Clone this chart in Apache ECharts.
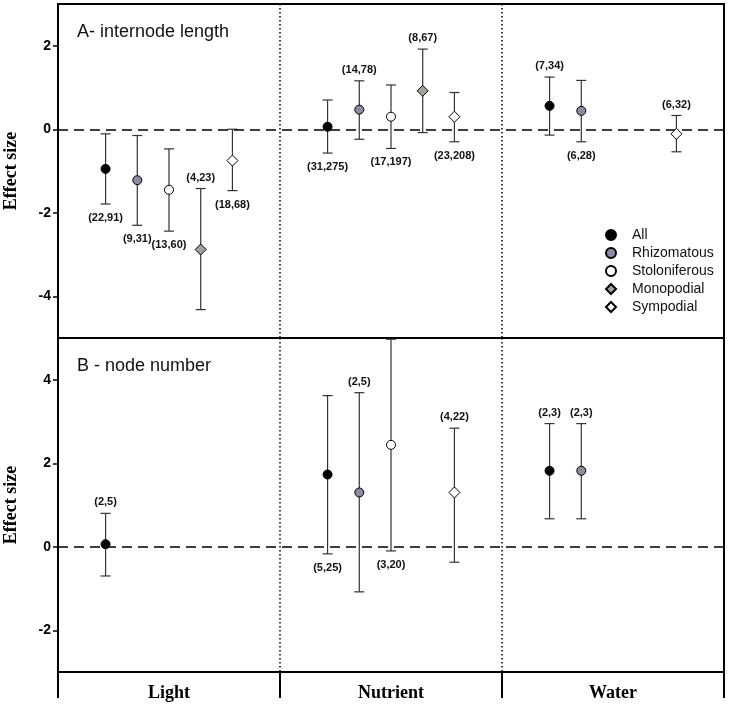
<!DOCTYPE html>
<html>
<head>
<meta charset="utf-8">
<script src="https://cdn.jsdelivr.net/npm/echarts@6/dist/echarts.min.js"></script>
<style>html,body{margin:0;padding:0;background:#fff}#chart{width:730px;height:707px}</style>
</head>
<body>
<div id="chart"></div>
<script>
// ---------- data ----------
const categories = ['Light', 'Nutrient', 'Water'];
const groupNames = ['All', 'Rhizomatous', 'Stoloniferous', 'Monopodial', 'Sympodial'];
const yTicksA = [-4, -2, 0, 2];
const yTicksB = [-2, 0, 2, 4];
const panelTitles = ['A- internode length', 'B - node number'];

// Panel A (internode length): per category [mean, lower, upper]; null = no data
const internodeAll   = [[-0.95, -1.79, -0.11], [0.06, -0.57, 0.70], [0.56, -0.14, 1.25]];
const internodeRhizo = [[-1.22, -2.30, -0.15], [0.47, -0.24, 1.16], [0.44, -0.30, 1.17]];
const internodeStolo = [[-1.45, -2.44, -0.47], [0.30, -0.46, 1.06], null];
const internodeMono  = [[-2.88, -4.32, -1.42], [0.92, -0.08, 1.92], null];
const internodeSymp  = [[-0.75, -1.47, 0.00], [0.30, -0.30, 0.88], [-0.11, -0.54, 0.33]];
const internodeAllN   = ['(22,91)', '(31,275)', '(7,34)'];
const internodeRhizoN = ['(9,31)', '(14,78)', '(6,28)'];
const internodeStoloN = ['(13,60)', '(17,197)', null];
const internodeMonoN  = ['(4,23)', '(8,67)', null];
const internodeSympN  = ['(18,68)', '(23,208)', '(6,32)'];

// Panel B (node number)
const nodeAll   = [[0.06, -0.70, 0.80], [1.73, -0.17, 3.62], [1.82, 0.67, 2.95]];
const nodeRhizo = [null, [1.30, -1.08, 3.69], [1.82, 0.67, 2.95]];
const nodeStolo = [null, [2.44, -0.10, 4.97], null];
const nodeMono  = [null, null, null];
const nodeSymp  = [null, [1.30, -0.37, 2.84], null];
const nodeAllN   = ['(2,5)', '(5,25)', '(2,3)'];
const nodeRhizoN = [null, '(2,5)', '(2,3)'];
const nodeStoloN = [null, '(3,20)', null];
const nodeMonoN  = [null, null, null];
const nodeSympN  = [null, '(4,22)', null];

// label placement (layout, not data)
const sideA = [
  ['below', 'below', 'above'],
  ['below', 'above', 'below'],
  ['below', 'below', null],
  ['above', 'above', null],
  ['below', 'below', 'above']
];
const sideB = [
  ['above', 'below', 'above'],
  [null, 'above', 'above'],
  [null, 'below', null],
  [null, null, null],
  [null, 'above', null]
];

// ---------- styles ----------
const groupStyle = [
  { symbol: 'circle', size: 9, color: '#000000' },
  { symbol: 'circle', size: 9, color: '#8c8ca0' },
  { symbol: 'circle', size: 9, color: '#ffffff' },
  { symbol: 'diamond', size: 11, color: '#a2a49a' },
  { symbol: 'diamond', size: 11, color: '#ffffff' }
];

const panelA = [internodeAll, internodeRhizo, internodeStolo, internodeMono, internodeSymp];
const panelAN = [internodeAllN, internodeRhizoN, internodeStoloN, internodeMonoN, internodeSympN];
const panelB = [nodeAll, nodeRhizo, nodeStolo, nodeMono, nodeSymp];
const panelBN = [nodeAllN, nodeRhizoN, nodeStoloN, nodeMonoN, nodeSympN];

function xPos(catIdx, groupIdx) { return catIdx + (1.5 + groupIdx) / 7; }

function buildPanelSeries(gridIdx, values, labels, sides) {
  const series = [];
  values.forEach((rows, g) => {
    const pts = [], bars = [];
    rows.forEach((r, c) => {
      if (!r) return;
      const x = xPos(c, g);
      pts.push([x, r[0]]);
      bars.push({ value: [x, r[1], r[2]], lab: labels[g][c], side: sides[g][c] });
    });
    if (!pts.length) return;
    series.push({
      type: 'custom',
      xAxisIndex: gridIdx, yAxisIndex: gridIdx,
      silent: true, z: 2,
      data: bars.map(b => b.value),
      renderItem: function (params, api) {
        const b = bars[params.dataIndex];
        const lo = api.coord([b.value[0], b.value[1]]);
        const hi = api.coord([b.value[0], b.value[2]]);
        const st = { stroke: '#333', lineWidth: 1.2 };
        const ch = [
          { type: 'line', shape: { x1: lo[0], y1: lo[1], x2: hi[0], y2: hi[1] }, style: st },
          { type: 'line', shape: { x1: lo[0] - 5, y1: lo[1], x2: lo[0] + 5, y2: lo[1] }, style: st },
          { type: 'line', shape: { x1: hi[0] - 5, y1: hi[1], x2: hi[0] + 5, y2: hi[1] }, style: st }
        ];
        if (b.lab) {
          const y = b.side === 'above' ? hi[1] - 11 : lo[1] + 14;
          ch.push({ type: 'text', x: lo[0], y: y, style: {
            text: b.lab, fill: '#111', font: 'bold 11px Arial, "Liberation Sans"',
            textAlign: 'center', textVerticalAlign: 'middle' } });
        }
        return { type: 'group', children: ch };
      }
    });
    const s = groupStyle[g];
    series.push({
      type: 'scatter', name: groupNames[g],
      xAxisIndex: gridIdx, yAxisIndex: gridIdx,
      symbol: s.symbol, symbolSize: s.size, z: 5,
      itemStyle: { color: s.color, borderColor: '#000', borderWidth: 1, opacity: 1 },
      emphasis: { disabled: true },
      data: pts
    });
  });
  // zero reference line
  series.push({
    type: 'line', xAxisIndex: gridIdx, yAxisIndex: gridIdx, data: [], silent: true,
    markLine: { symbol: 'none', silent: true, label: { show: false },
      lineStyle: { color: '#000', width: 1.5, type: [10, 6] },
      data: [{ yAxis: 0 }] }
  });
  return series;
}

const series = [].concat(
  buildPanelSeries(0, panelA, panelAN, sideA),
  buildPanelSeries(1, panelB, panelBN, sideB)
);

const yCommon = {
  type: 'value',
  axisLine: { show: true, lineStyle: { color: '#000', width: 2 } },
  axisTick: { show: true, length: 5, lineStyle: { color: '#000', width: 1.5 } },
  axisLabel: { color: '#000', fontWeight: 'bold', fontSize: 14, fontFamily: 'Arial, "Liberation Sans"', margin: 7 },
  splitLine: { show: false },
  name: 'Effect size', nameLocation: 'middle', nameGap: 38,
  nameTextStyle: { fontFamily: '"Liberation Serif", "Times New Roman", serif', fontWeight: 'bold', fontSize: 18, color: '#000' }
};

const option = {
  animation: false,
  backgroundColor: '#fff',
  grid: [
    { left: 58, right: 6, top: 4, height: 334, show: true, borderColor: '#000', borderWidth: 2,
      backgroundColor: 'transparent', containLabel: false, outerBoundsMode: 'none' },
    { left: 58, right: 6, top: 338, height: 334, show: true, borderColor: '#000', borderWidth: 2,
      backgroundColor: 'transparent', containLabel: false, outerBoundsMode: 'none' }
  ],
  xAxis: [
    { type: 'value', gridIndex: 0, min: 0, max: 3, interval: 1,
      axisLine: { show: false, onZero: false }, axisTick: { show: false }, axisLabel: { show: false },
      splitLine: { show: true, lineStyle: { color: '#000', width: 1.5, type: [1.5, 2.5] } } },
    { type: 'value', gridIndex: 1, min: 0, max: 3, interval: 1, position: 'bottom',
      axisLine: { show: false, onZero: false },
      axisTick: { show: true, length: 26, lineStyle: { color: '#000', width: 2 } },
      axisLabel: { show: false },
      splitLine: { show: true, lineStyle: { color: '#000', width: 1.5, type: [1.5, 2.5] } } },
    { type: 'category', gridIndex: 1, data: categories, position: 'bottom',
      axisLine: { show: false, onZero: false }, axisTick: { show: false },
      axisLabel: { color: '#000', fontWeight: 'bold', fontSize: 18, margin: 12,
        fontFamily: '"Liberation Serif", "Times New Roman", serif' } }
  ],
  yAxis: [
    Object.assign({}, yCommon, { gridIndex: 0, min: -5, max: 3,
      axisTick: Object.assign({}, yCommon.axisTick, { customValues: yTicksA }),
      axisLabel: Object.assign({}, yCommon.axisLabel, { customValues: yTicksA }) }),
    Object.assign({}, yCommon, { gridIndex: 1, min: -3, max: 5,
      axisTick: Object.assign({}, yCommon.axisTick, { customValues: yTicksB }),
      axisLabel: Object.assign({}, yCommon.axisLabel, { customValues: yTicksB }) })
  ],
  legend: {
    orient: 'vertical', left: 600, top: 223, itemGap: 4,
    itemWidth: 10, itemHeight: 10, selectedMode: false,
    data: groupNames,
    textStyle: { fontSize: 14, fontFamily: 'Arial, "Liberation Sans"', color: '#111', padding: [0, 0, 0, 11] }
  },
  graphic: [
    { type: 'text', left: 77, top: 23, style: { text: panelTitles[0], font: '18px Arial, "Liberation Sans"', fill: '#111' } },
    { type: 'text', left: 77, top: 357, style: { text: panelTitles[1], font: '18px Arial, "Liberation Sans"', fill: '#111' } }
  ],
  series: series
};

const chart = echarts.init(document.getElementById('chart'), null, { renderer: 'canvas' });
chart.setOption(option);
</script>
</body>
</html>
